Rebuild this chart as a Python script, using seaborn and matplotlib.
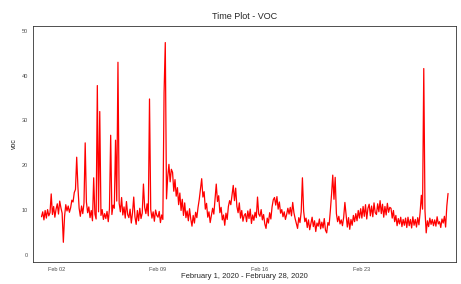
import pandas as pd
import matplotlib.pyplot as plt
import matplotlib.dates as mdates
import seaborn as sns

# VOC readings, one every 2 hours, 12 per day, Feb 1 - Feb 28 2020
voc = [
    # Feb 01
    8.5, 9.6, 7.8, 9.9, 8.2, 10.1, 8.7, 9.4, 13.6, 9.0, 10.8, 8.4,
    # Feb 02
    10.2, 11.4, 9.1, 12.0, 10.5, 9.3, 2.8, 8.6, 11.2, 9.8, 10.9, 9.5,
    # Feb 03
    10.5, 12.2, 11.8, 13.9, 14.6, 21.8, 15.2, 10.4, 8.6, 10.9, 9.2, 11.5,
    # Feb 04
    25.0, 11.8, 9.4, 10.7, 8.3, 9.9, 7.6, 17.2, 9.1, 8.0, 37.8, 9.6,
    # Feb 05
    32.0, 8.8, 10.1, 7.9, 9.2, 8.1, 9.7, 7.4, 10.3, 26.7, 9.0, 11.1,
    # Feb 06
    10.4, 25.6, 12.0, 43.0, 11.5, 9.6, 12.8, 8.9, 10.7, 8.2, 11.9, 9.0,
    # Feb 07
    8.3, 10.2, 7.1, 9.4, 12.9, 8.5, 6.8, 9.9, 7.6, 10.4, 8.1, 9.3,
    # Feb 08
    15.8, 10.6, 9.2, 11.4, 8.7, 34.8, 10.1, 8.2, 9.6, 7.5, 10.0, 8.8,
    # Feb 09
    8.4, 9.7, 7.2, 8.9, 7.9, 36.2, 47.4, 12.5, 17.4, 20.2, 16.3, 19.1,
    # Feb 10
    18.4, 14.2, 16.8, 13.1, 15.0, 11.2, 13.8, 9.9, 12.4, 8.8, 11.6, 8.3,
    # Feb 11
    9.8, 7.6, 10.3, 8.0, 6.4, 8.8, 7.1, 9.5, 8.3, 10.6, 12.4, 14.8,
    # Feb 12
    17.0, 12.9, 14.1, 10.2, 11.5, 8.4, 9.6, 7.2, 8.8, 10.4, 9.1, 12.6,
    # Feb 13
    15.8, 11.9, 13.2, 9.4, 10.6, 7.8, 8.9, 6.6, 9.3, 7.9, 10.8, 12.1,
    # Feb 14
    11.2, 13.4, 15.5, 12.1, 14.9, 10.8, 9.4, 11.6, 8.2, 9.9, 7.5, 8.8,
    # Feb 15
    9.2, 7.4, 9.8, 8.1, 10.2, 7.0, 8.9, 7.7, 9.5, 8.3, 12.9, 9.1,
    # Feb 16
    8.6, 10.1, 7.8, 9.0, 6.9, 5.9, 8.2, 7.1, 9.4, 8.0, 10.7, 12.3,
    # Feb 17
    12.8, 11.1, 13.0, 10.2, 11.8, 9.3, 10.1, 8.5, 9.6, 7.9, 9.0, 10.4,
    # Feb 18
    9.1, 10.6, 8.7, 11.7, 9.4, 8.1, 7.0, 5.9, 8.3, 7.2, 9.6, 17.2,
    # Feb 19
    9.8, 7.4, 8.2, 6.1, 7.8, 5.6, 7.0, 8.4, 6.3, 7.6, 5.2, 7.1,
    # Feb 20
    6.4, 8.0, 5.8, 7.3, 6.0, 8.1, 5.5, 4.9, 7.2, 6.6, 9.8, 13.5,
    # Feb 21
    17.8, 12.4, 17.3, 9.2, 7.4, 8.6, 6.9, 7.8, 6.5, 8.4, 11.7, 8.9,
    # Feb 22
    6.2, 8.3, 5.7, 7.9, 6.6, 8.8, 7.4, 9.2, 7.6, 9.9, 8.2, 10.3,
    # Feb 23
    8.2, 10.8, 8.6, 11.2, 8.0, 10.4, 11.3, 8.7, 10.9, 8.5, 11.6, 9.4,
    # Feb 24
    9.0, 11.4, 9.6, 12.1, 9.2, 11.3, 8.4, 10.8, 8.9, 11.5, 9.5, 10.6,
    # Feb 25
    10.4, 8.2, 9.9, 7.4, 8.8, 6.5, 8.1, 6.9, 8.4, 6.3, 7.9, 6.6,
    # Feb 26
    8.2, 6.1, 8.4, 6.5, 7.9, 6.0, 8.5, 6.6, 7.9, 6.2, 8.3, 6.7,
    # Feb 27
    9.5, 13.3, 10.2, 41.6, 9.8, 4.9, 7.6, 6.3, 8.2, 6.8, 7.9, 6.5,
    # Feb 28
    7.8, 6.4, 8.5, 6.9, 7.4, 6.1, 8.0, 7.1, 8.6, 6.2, 10.9, 13.7,
]
times = pd.date_range("2020-02-01", periods=len(voc), freq="2h")
y_ticks = [0, 10, 20, 30, 40, 50]
x_ticks = pd.to_datetime(["2020-02-02", "2020-02-09", "2020-02-16", "2020-02-23"])

df = pd.DataFrame({"time": times, "voc": voc})

sns.set_style("white")
plt.rcParams['font.family'] = ['Liberation Sans', 'DejaVu Sans']

fig = plt.figure(figsize=(4.61, 2.84), dpi=100)
ax = fig.add_axes([0.0716, 0.0775, 0.9174, 0.831])

sns.lineplot(data=df, x="time", y="voc", color="red", linewidth=0.9, ax=ax)

ax.set_xlim(pd.Timestamp("2020-02-01") - pd.Timedelta(hours=14),
            pd.Timestamp("2020-02-01") + pd.Timedelta(hours=683))
ax.set_ylim(-1.6, 51.1)
ax.set_yticks(y_ticks)
ax.set_xticks(x_ticks)
ax.xaxis.set_major_formatter(mdates.DateFormatter("%b %d"))

ax.tick_params(axis="both", labelsize=4, colors="#4d4d4d", length=2, width=0.5, pad=1.5)
for s in ax.spines.values():
    s.set_color("#333333")
    s.set_linewidth(0.6)

ax.set_title("Time Plot - VOC", fontsize=6.5, pad=5)
ax.set_xlabel("February 1, 2020 - February 28, 2020", fontsize=5.5, labelpad=1)
ax.set_ylabel("voc", fontsize=5, labelpad=3)

fig.savefig("out.png", dpi=100)
